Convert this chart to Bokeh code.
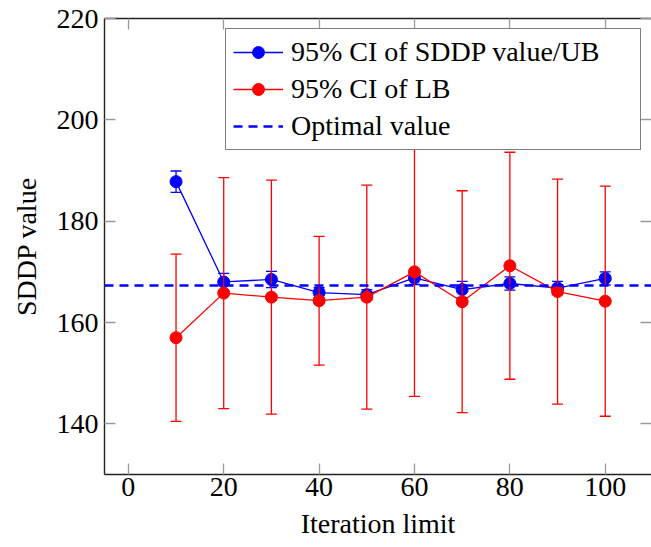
from bokeh.plotting import figure
from bokeh.models import (LinearAxis, FixedTicker, Legend, LegendItem,
                          ColumnDataSource, CustomLabelingPolicy)
from bokeh.embed import file_html
from bokeh.resources import INLINE

# ---- data ----
iterations = [10, 20, 30, 40, 50, 60, 70, 80, 90, 100]
ub_mean = [187.8, 168.0, 168.5, 165.9, 165.5, 168.8, 166.5, 167.7, 166.8, 168.7]
ub_half = [2.1, 1.7, 1.6, 1.0, 1.0, 1.3, 1.6, 1.3, 1.3, 1.3]
lb_mean = [157.0, 165.8, 165.0, 164.3, 165.0, 170.0, 164.1, 171.2, 166.1, 164.2]
lb_half = [16.5, 22.8, 23.1, 12.7, 22.1, 24.6, 21.9, 22.4, 22.2, 22.7]
optimal_value = 167.4
x_ticks = [0, 20, 40, 60, 80, 100]
y_ticks = [140, 160, 180, 200, 220]

FONT = "'Liberation Serif', serif"
FS = "28px"
BLUE = "#0000ff"
RED = "#ff0000"

p = figure(width=651, height=547, x_range=(-5, 109.7), y_range=(130, 220),
           output_backend="svg", toolbar_location=None,
           min_border_left=104, min_border_right=0, min_border_top=18,
           min_border_bottom=73, x_axis_label="Iteration limit",
           y_axis_label="SDDP value")
p.outline_line_color = None
p.xgrid.visible = False
p.ygrid.visible = False
p.background_fill_color = "white"
p.border_fill_color = "white"

hide_all = CustomLabelingPolicy(
    code="const n = indices.size; for (let i = 0; i < n; i++) { indices.unset(i) } return indices")


def style_axis(ax, ticks, show_labels=True, show_line=True):
    ax.ticker = FixedTicker(ticks=ticks)
    ax.major_tick_in = 11
    ax.major_tick_out = 0
    ax.minor_tick_in = 0
    ax.minor_tick_out = 0
    ax.major_tick_line_color = "#9a9a9a"
    ax.major_tick_line_width = 1.3
    if show_line:
        ax.axis_line_color = "#222222"
        ax.axis_line_width = 1.4
    else:
        ax.axis_line_alpha = 0
    if show_labels:
        ax.major_label_text_font = FONT
        ax.major_label_text_font_size = FS
        ax.major_label_text_color = "black"
        ax.axis_label_text_font = FONT
        ax.axis_label_text_font_size = FS
        ax.axis_label_text_font_style = "normal"
        ax.axis_label_text_color = "black"
    else:
        ax.major_label_policy = hide_all
        ax.major_label_text_font_size = "0px"
        ax.major_label_standoff = 0
        ax.axis_label_standoff = 0


xa = p.xaxis[0]
style_axis(xa, x_ticks)
xa.major_label_standoff = 3
xa.axis_label_standoff = 9

ya = p.yaxis[0]
style_axis(ya, y_ticks)
ya.major_label_standoff = 6
ya.axis_label_standoff = 12

top_ax = LinearAxis()
style_axis(top_ax, x_ticks, show_labels=False)
p.add_layout(top_ax, "above")

right_ax = LinearAxis()
style_axis(right_ax, y_ticks, show_labels=False, show_line=False)
p.add_layout(right_ax, "right")

ub_src = ColumnDataSource(dict(
    x=iterations, y=ub_mean,
    lo=[m - h for m, h in zip(ub_mean, ub_half)],
    hi=[m + h for m, h in zip(ub_mean, ub_half)]))
lb_src = ColumnDataSource(dict(
    x=iterations, y=lb_mean,
    lo=[m - h for m, h in zip(lb_mean, lb_half)],
    hi=[m + h for m, h in zip(lb_mean, lb_half)]))


def draw_series(src, color):
    ln = p.line("x", "y", source=src, line_color=color, line_width=1.3)
    p.segment(x0="x", y0="lo", x1="x", y1="hi", source=src,
              line_color=color, line_width=1.3)
    p.scatter("x", "hi", source=src, marker="dash", size=11,
              line_color=color, line_width=1.3)
    p.scatter("x", "lo", source=src, marker="dash", size=11,
              line_color=color, line_width=1.3)
    sc = p.scatter("x", "y", source=src, marker="circle", size=12,
                   fill_color=color, line_color=color)
    return ln, sc


ub_line, ub_pts = draw_series(ub_src, BLUE)
lb_line, lb_pts = draw_series(lb_src, RED)
opt = p.hspan(y=[optimal_value], line_color=BLUE, line_width=2.5,
              line_dash="9 6")

legend = Legend(items=[
    LegendItem(label="95% CI of SDDP value/UB", renderers=[ub_line, ub_pts]),
    LegendItem(label="95% CI of LB", renderers=[lb_line, lb_pts]),
    LegendItem(label="Optimal value", renderers=[opt]),
], location="top_right")
legend.margin = 10
legend.padding = 7
legend.spacing = 5
legend.glyph_width = 50
legend.glyph_height = 30
legend.label_height = 30
legend.label_width = 342
legend.label_standoff = 8
legend.label_text_font = FONT
legend.label_text_font_size = FS
legend.label_text_color = "black"
legend.border_line_color = "black"
legend.border_line_width = 1.2
legend.background_fill_color = "white"
legend.background_fill_alpha = 1.0
p.add_layout(legend)

open("out.html", "w").write(file_html(p, INLINE))
